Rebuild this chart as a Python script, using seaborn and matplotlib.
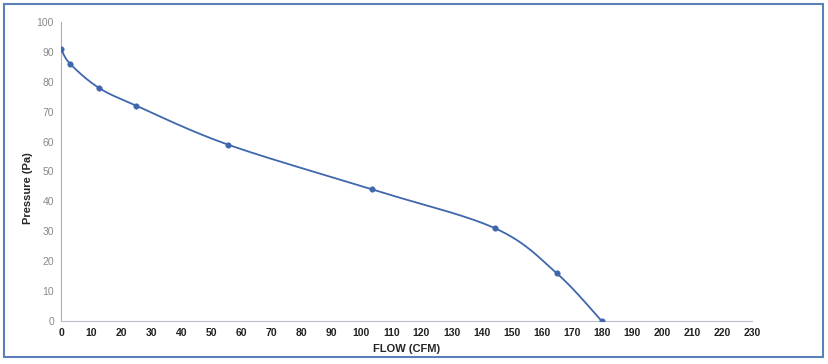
import numpy as np
import pandas as pd
import matplotlib
matplotlib.use("Agg")
import matplotlib.pyplot as plt
import seaborn as sns
from matplotlib.patches import Rectangle

# datos de la curva del ventilador
flujo = [0, 3, 12.5, 25, 55.5, 103.5, 144.5, 165, 180]
presion = [91, 86, 78, 72, 59, 44, 31, 16, 0]
x_ticks = list(range(0, 240, 10))
y_ticks = list(range(0, 110, 10))

df = pd.DataFrame({"flujo": flujo, "presion": presion})

sns.set_style("white")
plt.rcParams['font.family'] = ['Liberation Sans', 'DejaVu Sans']

color_linea = "#3f67ad"


# curva suavizada tipo Catmull-Rom (solo para dibujar la linea)
def suavizar(x, y, n=30):
    p = np.column_stack([x, y]).astype(float)
    p = np.vstack([p[0], p, p[-1]])
    xs, ys = [], []
    for i in range(1, len(p) - 2):
        p0, p1, p2, p3 = p[i - 1], p[i], p[i + 1], p[i + 2]
        t = np.linspace(0, 1, n)[:, None]
        c = 0.5 * ((2 * p1) + (-p0 + p2) * t + (2 * p0 - 5 * p1 + 4 * p2 - p3) * t ** 2
                   + (-p0 + 3 * p1 - 3 * p2 + p3) * t ** 3)
        xs.extend(c[:, 0])
        ys.extend(c[:, 1])
    return pd.DataFrame({"flujo": xs, "presion": ys})


curva = suavizar(flujo, presion)

fig = plt.figure(figsize=(8.29, 3.64), dpi=100)
ax = fig.add_axes([0.0736, 0.118, 0.8334, 0.822])

sns.lineplot(data=curva, x="flujo", y="presion", ax=ax, color=color_linea, lw=1.3, sort=False)
sns.scatterplot(data=df, x="flujo", y="presion", ax=ax, color=color_linea, s=16, edgecolor=color_linea, zorder=3)

ax.set_xlim(0, 230)
ax.set_ylim(0, 100)
ax.set_xticks(x_ticks)
ax.set_yticks(y_ticks)
ax.tick_params(axis="x", labelsize=7.5, colors="#222222", length=0, pad=5)
ax.tick_params(axis="y", labelsize=7.5, colors="#8a8a8a", length=0, pad=5)
for lbl in ax.get_xticklabels():
    lbl.set_fontweight("bold")

ax.set_xlabel("FLOW (CFM)", fontsize=8, fontweight="bold", labelpad=4)
ax.set_ylabel("Pressure (Pa)", fontsize=8, fontweight="bold")
ax.yaxis.set_label_coords(-0.04, 0.445)

sns.despine(ax=ax)
ax.spines["left"].set_color("#b0b0b0")
ax.spines["bottom"].set_color("#b8c0cc")

# marco azul del grafico
fig.patches.append(Rectangle((0.005, 0.02), 0.988, 0.97, transform=fig.transFigure,
                             fill=False, edgecolor="#5b7fb8", lw=1.5))

fig.savefig("out.png", dpi=100)
